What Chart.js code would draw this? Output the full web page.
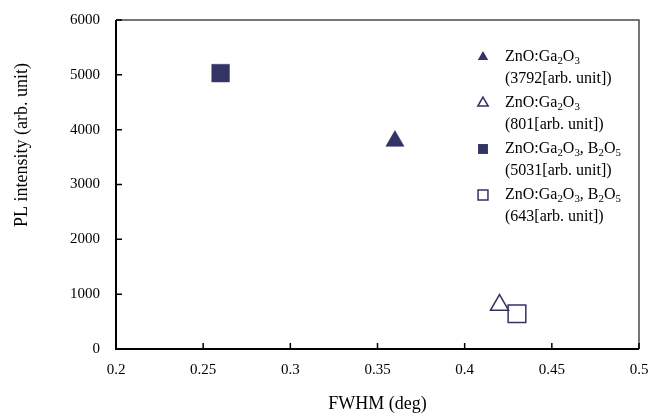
<!DOCTYPE html>
<html>
<head>
<meta charset="utf-8">
<script src="https://cdn.jsdelivr.net/npm/chart.js@4.4.1/dist/chart.umd.min.js"></script>
<style>
html,body{margin:0;padding:0;background:#fff;}
#wrap{width:653px;height:416px;}
</style>
</head>
<body>
<div id="wrap"><canvas id="c" width="653" height="416"></canvas></div>
<script>
// ---- data ----
const seriesLabels = [
  ["ZnO:Ga_{2}O_{3}", "(3792[arb. unit])"],
  ["ZnO:Ga_{2}O_{3}", "(801[arb. unit])"],
  ["ZnO:Ga_{2}O_{3}, B_{2}O_{5}", "(5031[arb. unit])"],
  ["ZnO:Ga_{2}O_{3}, B_{2}O_{5}", "(643[arb. unit])"]
];
const fwhm = [0.36, 0.42, 0.26, 0.43];
const intensity = [3792, 801, 5031, 643];
const markerStyles = ["triangle", "triangle", "rect", "rect"];
const markerFilled = [true, false, true, false];
const xTitle = "FWHM (deg)";
const yTitle = "PL intensity (arb. unit)";

const NAVY = "#333366";
const FONT = "'Liberation Serif', 'Times New Roman', serif";

const datasets = fwhm.map((x, i) => ({
  label: seriesLabels[i].join(" "),
  data: [{x: x, y: intensity[i]}],
  pointStyle: markerStyles[i],
  pointRadius: markerStyles[i] === "triangle" ? 10.5 : 12.5,
  pointHoverRadius: markerStyles[i] === "triangle" ? 10.5 : 12.5,
  pointBackgroundColor: markerFilled[i] ? NAVY : "#ffffff",
  pointBorderColor: NAVY,
  pointBorderWidth: markerFilled[i] ? 0.5 : 1.5,
  showLine: false
}));

function drawRich(ctx, str, x, y, size) {
  const parts = str.split(/(_\{[^}]*\})/).filter(s => s.length);
  let cx = x;
  parts.forEach(p => {
    if (p.startsWith("_{")) {
      const t = p.slice(2, -1);
      ctx.font = (size * 0.68) + "px " + FONT;
      ctx.fillText(t, cx, y + size * 0.28);
      cx += ctx.measureText(t).width;
    } else {
      ctx.font = size + "px " + FONT;
      ctx.fillText(p, cx, y);
      cx += ctx.measureText(p).width;
    }
  });
}

const decor = {
  id: "decor",
  afterDraw(chart) {
    const ctx = chart.ctx;
    const a = chart.chartArea;
    const xs = chart.scales.x, ys = chart.scales.y;
    ctx.save();
    // box top/right
    ctx.strokeStyle = "#4a4a4a";
    ctx.lineWidth = 1.5;
    ctx.beginPath();
    ctx.moveTo(a.left, a.top);
    ctx.lineTo(a.right, a.top);
    ctx.lineTo(a.right, a.bottom);
    ctx.stroke();
    // axes left/bottom
    ctx.strokeStyle = "#000";
    ctx.lineWidth = 2;
    ctx.beginPath();
    ctx.moveTo(a.left, a.top);
    ctx.lineTo(a.left, a.bottom);
    ctx.lineTo(a.right, a.bottom);
    ctx.stroke();
    // inside ticks
    ctx.lineWidth = 1.5;
    ctx.beginPath();
    xs.ticks.forEach(t => {
      const px = xs.getPixelForValue(t.value);
      ctx.moveTo(px, a.bottom);
      ctx.lineTo(px, a.bottom - 6);
    });
    ys.ticks.forEach(t => {
      const py = ys.getPixelForValue(t.value);
      ctx.moveTo(a.left, py);
      ctx.lineTo(a.left + 6, py);
    });
    ctx.stroke();
    // axis titles
    ctx.fillStyle = "#000";
    ctx.font = "18px " + FONT;
    ctx.textAlign = "center";
    ctx.textBaseline = "middle";
    ctx.fillText(xTitle, (a.left + a.right) / 2, 404);
    ctx.save();
    ctx.translate(22, 145);
    ctx.rotate(-Math.PI / 2);
    ctx.fillText(yTitle, 0, 0);
    ctx.restore();
    // legend
    ctx.textAlign = "left";
    ctx.textBaseline = "middle";
    const mx = 483, tx = 505, y0 = 57, step = 46, lh = 22;
    seriesLabels.forEach((lab, i) => {
      const y = y0 + i * step;
      ctx.fillStyle = markerFilled[i] ? NAVY : "#ffffff";
      ctx.strokeStyle = NAVY;
      ctx.lineWidth = 1.5;
      Chart.helpers.drawPoint(ctx, {
        pointStyle: markerStyles[i],
        radius: markerStyles[i] === "triangle" ? 6 : 7,
        rotation: 0,
        borderWidth: markerFilled[i] ? 0 : 1.5
      }, mx, y);
      ctx.fillStyle = "#000";
      drawRich(ctx, lab[0], tx, y, 16);
      drawRich(ctx, lab[1], tx, y + lh, 16);
    });
    ctx.restore();
  }
};

new Chart(document.getElementById("c"), {
  type: "scatter",
  data: { datasets },
  plugins: [decor],
  options: {
    responsive: false,
    devicePixelRatio: 1,
    animation: false,
    layout: { padding: { top: 20, right: 14, left: 0, bottom: 0 } },
    plugins: { legend: { display: false }, tooltip: { enabled: false } },
    scales: {
      x: {
        type: "linear", min: 0.2, max: 0.5,
        ticks: {
          stepSize: 0.05, padding: 12, color: "#000",
          font: { family: FONT, size: 15 },
          maxRotation: 0,
          callback: v => String(Number(v.toFixed(2)))
        },
        grid: { display: false, drawTicks: false },
        border: { display: false },
        afterFit: s => { s.height = 67; s.paddingLeft = 0; s.paddingRight = 0; }
      },
      y: {
        type: "linear", min: 0, max: 6000,
        ticks: {
          stepSize: 1000, padding: 16, color: "#000",
          font: { family: FONT, size: 15 },
          callback: v => String(v)
        },
        grid: { display: false, drawTicks: false },
        border: { display: false },
        afterFit: s => { s.width = 116; s.paddingTop = 0; s.paddingBottom = 0; }
      }
    }
  }
});
</script>
</body>
</html>
